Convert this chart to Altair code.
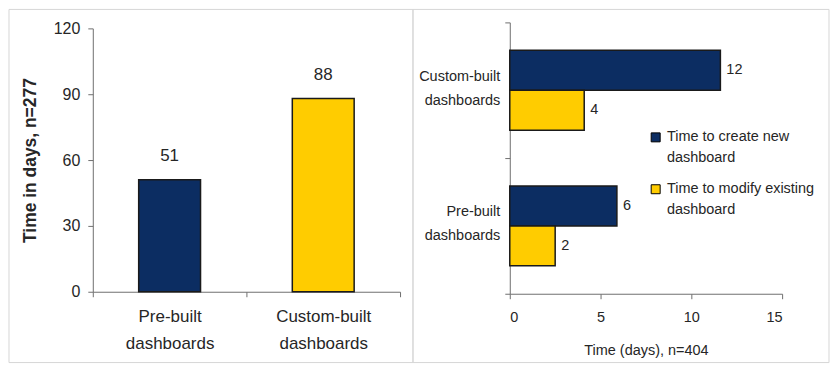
import altair as alt
import pandas as pd

# ---- data ----
left_categories = ["Pre-built dashboards", "Custom-built dashboards"]
left_values = [51, 88]
left_title = "Time in days, n=277"

right_categories = ["Custom-built dashboards", "Pre-built dashboards"]
series = ["Time to create new dashboard", "Time to modify existing dashboard"]
create_values = [11.6, 5.9]      # bar lengths
modify_values = [4.1, 2.5]
create_labels = ["12", "6"]      # printed labels
modify_labels = ["4", "2"]
right_title = "Time (days), n=404"

NAVY = "#0c2d62"
YELLOW = "#ffcc00"
FONT = "Liberation Sans"
TXT = "#262626"
AX = "#6e6e6e"
FRAME = "#d6d6d6"

left_df = pd.DataFrame({"category": left_categories, "value": left_values})

rows = []
for i, c in enumerate(right_categories):
    rows.append({"category": c, "series": series[0], "value": create_values[i], "label": create_labels[i]})
    rows.append({"category": c, "series": series[1], "value": modify_values[i], "label": modify_labels[i]})
right_df = pd.DataFrame(rows)

frame_df = pd.DataFrame({"k": [0]})

W1, H = 308, 272
W2 = 273

# ---- left panel ----
lx = alt.X("category:N", sort=left_categories,
           scale=alt.Scale(paddingInner=0, paddingOuter=0),
           axis=alt.Axis(title=None, labelAngle=0, tickBand="extent",
                         labelExpr="split(datum.label, ' ')",
                         labelFontSize=17, labelLineHeight=27, labelPadding=12,
                         labelColor=TXT, labelFont=FONT,
                         tickSize=5, offset=-2, domainColor=AX, tickColor=AX))
ly = alt.Y("value:Q",
           scale=alt.Scale(domain=[0, 120], range=[270, 6], nice=False, zero=True),
           axis=alt.Axis(values=[0, 30, 60, 90, 120], title=left_title,
                         titleFontWeight="bold", titleFontSize=17.5, titleFont=FONT,
                         titleColor=TXT, titlePadding=14,
                         labelFontSize=16, labelFont=FONT, labelColor=TXT,
                         labelPadding=8, tickSize=5, grid=False,
                         domainColor=AX, tickColor=AX))

left_bars = alt.Chart(left_df).mark_bar(size=62, stroke="#1a1a1a", strokeWidth=1.5).encode(
    x=lx, y=ly,
    color=alt.Color("category:N", sort=left_categories,
                    scale=alt.Scale(domain=left_categories, range=[NAVY, YELLOW]), legend=None),
)
left_text = alt.Chart(left_df).mark_text(dy=-15, baseline="bottom", fontSize=17,
                                         font=FONT, color=TXT).encode(
    x=alt.X("category:N", sort=left_categories), y=alt.Y("value:Q"), text="value:Q")

left_frame = alt.Chart(frame_df).mark_rect(fill="transparent", stroke=FRAME, strokeWidth=1).encode(
    x=alt.value(-84), x2=alt.value(321), y=alt.value(-13), y2=alt.value(341))

left = alt.layer(left_frame, left_bars, left_text).properties(width=W1, height=H)

# ---- right panel ----
ry = alt.Y("category:N", sort=right_categories,
           scale=alt.Scale(paddingInner=0, paddingOuter=0),
           axis=alt.Axis(title=None, tickBand="extent",
                         labelExpr="split(datum.label, ' ')",
                         labelFontSize=14.5, labelLineHeight=24, labelPadding=5,
                         labelOffset=-14,
                         labelFont=FONT, labelColor=TXT, labelAlign="right",
                         tickSize=5, domainColor=AX, tickColor=AX))
rx = alt.X("value:Q", scale=alt.Scale(domain=[0, 15], nice=False),
           axis=alt.Axis(values=[0, 5, 10, 15], title=right_title,
                         titleFontWeight="normal", titleFontSize=14.5, titleFont=FONT,
                         titleColor=TXT, titlePadding=19,
                         labelFontSize=14.5, labelFont=FONT, labelColor=TXT,
                         labelPadding=12, tickSize=5, grid=False,
                         domainColor=AX, tickColor=AX))
ryo = alt.YOffset("series:N", sort=series,
                  scale=alt.Scale(paddingInner=0, paddingOuter=0.7))

right_bars = alt.Chart(right_df).mark_bar(stroke="#1a1a1a", strokeWidth=1.5).encode(
    x=rx, y=ry, yOffset=ryo,
    color=alt.Color("series:N", sort=series,
                    scale=alt.Scale(domain=series, range=[NAVY, YELLOW]),
                    legend=alt.Legend(title=None, orient="none", legendX=139, legendY=108,
                                      symbolType="square", symbolSize=81,
                                      symbolStrokeColor="black", symbolStrokeWidth=1,
                                      labelFontSize=14.5, labelFont=FONT, labelColor=TXT,
                                      labelOffset=4,
                                      labelExpr="[replace(datum.label, ' dashboard', ''), 'dashboard']",
                                      rowPadding=16, labelLimit=300)),
)
right_text = alt.Chart(right_df).mark_text(align="left", dx=6, baseline="middle",
                                           fontSize=14.5, font=FONT, color=TXT).encode(
    x=alt.X("value:Q"), y=alt.Y("category:N", sort=right_categories),
    yOffset=alt.YOffset("series:N", sort=series), text="label:N")

right_frame = alt.Chart(frame_df).mark_rect(fill="transparent", stroke=FRAME, strokeWidth=1).encode(
    x=alt.value(-97), x2=alt.value(320), y=alt.value(-13), y2=alt.value(341))

right = alt.layer(right_frame, right_bars, right_text).properties(width=W2, height=H)

chart = alt.hconcat(left, right, spacing=110, bounds="flush").resolve_scale(
    color="independent"
).resolve_legend(color="independent").properties(
    padding=0, background="white"
).configure(
    style={"guide-label": {"lineHeight": 21}},
    view={"stroke": "transparent"},
)

chart.save("out.html", embed_options={"renderer": "svg", "actions": False})
